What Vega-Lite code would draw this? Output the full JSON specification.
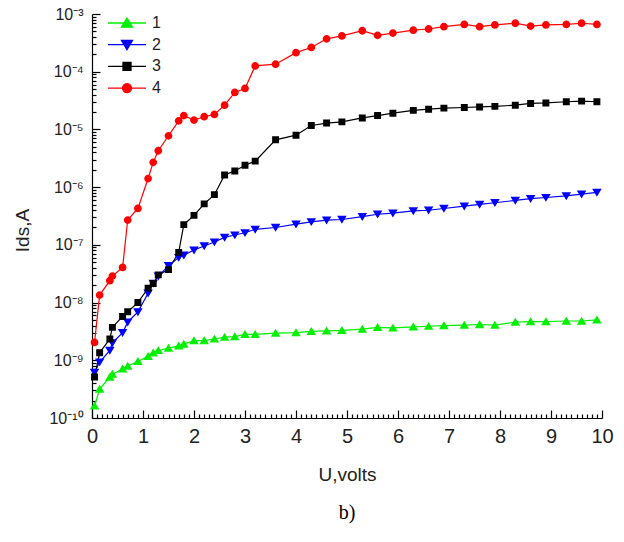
{
  "$schema": "https://vega.github.io/schema/vega-lite/v6.json",
  "autosize": "none",
  "padding": {"left": 92, "top": 14, "right": 22, "bottom": 124},
  "width": 510,
  "height": 404,
  "title": {"text": "b)", "orient": "bottom", "font": "Liberation Serif", "fontSize": 20, "fontWeight": "normal", "color": "#000", "offset": 19, "anchor": "middle"},
  "config": {
    "view": {"stroke": null},
    "axis": {"grid": false, "domainColor": "#000", "domainWidth": 1.2, "labelFont": "Liberation Sans", "labelColor": "#222", "titleFont": "Liberation Sans", "titleColor": "#222", "titleFontWeight": "normal", "labelOverlap": false, "labelBound": false, "labelFlush": false},
    "legend": {"symbolStrokeWidth": 1.3}
  },
  "data": {"values": [
    {"U":0.05,"s":"1","I":1.62e-10},{"U":0.15,"s":"1","I":3.16e-10},{"U":0.35,"s":"1","I":5.13e-10},{"U":0.4,"s":"1","I":5.75e-10},{"U":0.6,"s":"1","I":7.08e-10},{"U":0.7,"s":"1","I":7.94e-10},{"U":0.9,"s":"1","I":9.55e-10},{"U":1.1,"s":"1","I":1.17e-9},{"U":1.2,"s":"1","I":1.35e-9},{"U":1.3,"s":"1","I":1.48e-9},{"U":1.5,"s":"1","I":1.62e-9},{"U":1.7,"s":"1","I":1.78e-9},{"U":1.8,"s":"1","I":1.91e-9},{"U":2.0,"s":"1","I":2.19e-9},{"U":2.2,"s":"1","I":2.19e-9},{"U":2.4,"s":"1","I":2.34e-9},{"U":2.6,"s":"1","I":2.51e-9},{"U":2.8,"s":"1","I":2.57e-9},{"U":3.0,"s":"1","I":2.82e-9},{"U":3.2,"s":"1","I":2.82e-9},{"U":3.6,"s":"1","I":2.95e-9},{"U":4.0,"s":"1","I":3.02e-9},{"U":4.3,"s":"1","I":3.16e-9},{"U":4.6,"s":"1","I":3.24e-9},{"U":4.9,"s":"1","I":3.31e-9},{"U":5.3,"s":"1","I":3.47e-9},{"U":5.6,"s":"1","I":3.72e-9},{"U":5.9,"s":"1","I":3.63e-9},{"U":6.3,"s":"1","I":3.80e-9},{"U":6.6,"s":"1","I":3.89e-9},{"U":6.9,"s":"1","I":3.98e-9},{"U":7.3,"s":"1","I":4.07e-9},{"U":7.6,"s":"1","I":4.17e-9},{"U":7.9,"s":"1","I":4.07e-9},{"U":8.3,"s":"1","I":4.57e-9},{"U":8.6,"s":"1","I":4.68e-9},{"U":8.9,"s":"1","I":4.68e-9},{"U":9.3,"s":"1","I":4.79e-9},{"U":9.6,"s":"1","I":4.79e-9},{"U":9.9,"s":"1","I":5.01e-9},
    {"U":0.05,"s":"2","I":6.17e-10},{"U":0.15,"s":"2","I":9.33e-10},{"U":0.35,"s":"2","I":1.48e-9},{"U":0.4,"s":"2","I":2.0e-9},{"U":0.6,"s":"2","I":3.02e-9},{"U":0.7,"s":"2","I":4.57e-9},{"U":0.9,"s":"2","I":6.92e-9},{"U":1.1,"s":"2","I":1.45e-8},{"U":1.2,"s":"2","I":2.14e-8},{"U":1.3,"s":"2","I":2.88e-8},{"U":1.5,"s":"2","I":4.37e-8},{"U":1.7,"s":"2","I":6.03e-8},{"U":1.8,"s":"2","I":6.61e-8},{"U":2.0,"s":"2","I":8.13e-8},{"U":2.2,"s":"2","I":9.55e-8},{"U":2.4,"s":"2","I":1.12e-7},{"U":2.6,"s":"2","I":1.35e-7},{"U":2.8,"s":"2","I":1.48e-7},{"U":3.0,"s":"2","I":1.62e-7},{"U":3.2,"s":"2","I":1.86e-7},{"U":3.6,"s":"2","I":2.0e-7},{"U":4.0,"s":"2","I":2.29e-7},{"U":4.3,"s":"2","I":2.51e-7},{"U":4.6,"s":"2","I":2.69e-7},{"U":4.9,"s":"2","I":2.75e-7},{"U":5.3,"s":"2","I":3.09e-7},{"U":5.6,"s":"2","I":3.39e-7},{"U":5.9,"s":"2","I":3.55e-7},{"U":6.3,"s":"2","I":3.89e-7},{"U":6.6,"s":"2","I":3.98e-7},{"U":6.9,"s":"2","I":4.27e-7},{"U":7.3,"s":"2","I":4.68e-7},{"U":7.6,"s":"2","I":5.01e-7},{"U":7.9,"s":"2","I":5.37e-7},{"U":8.3,"s":"2","I":5.89e-7},{"U":8.6,"s":"2","I":6.31e-7},{"U":8.9,"s":"2","I":6.61e-7},{"U":9.3,"s":"2","I":7.08e-7},{"U":9.6,"s":"2","I":7.59e-7},{"U":9.9,"s":"2","I":8.13e-7},
    {"U":0.05,"s":"3","I":5.13e-10},{"U":0.15,"s":"3","I":1.35e-9},{"U":0.35,"s":"3","I":2.34e-9},{"U":0.4,"s":"3","I":3.72e-9},{"U":0.6,"s":"3","I":5.75e-9},{"U":0.7,"s":"3","I":6.92e-9},{"U":0.9,"s":"3","I":1.0e-8},{"U":1.1,"s":"3","I":1.78e-8},{"U":1.2,"s":"3","I":2.14e-8},{"U":1.3,"s":"3","I":3.02e-8},{"U":1.5,"s":"3","I":3.72e-8},{"U":1.7,"s":"3","I":7.41e-8},{"U":1.8,"s":"3","I":2.24e-7},{"U":2.0,"s":"3","I":3.24e-7},{"U":2.2,"s":"3","I":5.13e-7},{"U":2.4,"s":"3","I":7.41e-7},{"U":2.6,"s":"3","I":1.62e-6},{"U":2.8,"s":"3","I":1.91e-6},{"U":3.0,"s":"3","I":2.40e-6},{"U":3.2,"s":"3","I":2.82e-6},{"U":3.6,"s":"3","I":6.61e-6},{"U":4.0,"s":"3","I":7.94e-6},{"U":4.3,"s":"3","I":1.17e-5},{"U":4.6,"s":"3","I":1.29e-5},{"U":4.9,"s":"3","I":1.35e-5},{"U":5.3,"s":"3","I":1.58e-5},{"U":5.6,"s":"3","I":1.74e-5},{"U":5.9,"s":"3","I":1.91e-5},{"U":6.3,"s":"3","I":2.14e-5},{"U":6.6,"s":"3","I":2.24e-5},{"U":6.9,"s":"3","I":2.34e-5},{"U":7.3,"s":"3","I":2.40e-5},{"U":7.6,"s":"3","I":2.45e-5},{"U":7.9,"s":"3","I":2.51e-5},{"U":8.3,"s":"3","I":2.63e-5},{"U":8.6,"s":"3","I":2.82e-5},{"U":8.9,"s":"3","I":2.88e-5},{"U":9.3,"s":"3","I":3.02e-5},{"U":9.6,"s":"3","I":3.09e-5},{"U":9.9,"s":"3","I":3.02e-5},
    {"U":0.05,"s":"4","I":2.04e-9},{"U":0.15,"s":"4","I":1.35e-8},{"U":0.35,"s":"4","I":2.40e-8},{"U":0.4,"s":"4","I":2.88e-8},{"U":0.6,"s":"4","I":4.07e-8},{"U":0.7,"s":"4","I":2.69e-7},{"U":0.9,"s":"4","I":4.27e-7},{"U":1.1,"s":"4","I":1.41e-6},{"U":1.2,"s":"4","I":2.69e-6},{"U":1.3,"s":"4","I":4.27e-6},{"U":1.5,"s":"4","I":7.76e-6},{"U":1.7,"s":"4","I":1.41e-5},{"U":1.8,"s":"4","I":1.74e-5},{"U":2.0,"s":"4","I":1.45e-5},{"U":2.2,"s":"4","I":1.66e-5},{"U":2.4,"s":"4","I":1.82e-5},{"U":2.6,"s":"4","I":2.63e-5},{"U":2.8,"s":"4","I":4.37e-5},{"U":3.0,"s":"4","I":5.13e-5},{"U":3.2,"s":"4","I":1.26e-4},{"U":3.6,"s":"4","I":1.35e-4},{"U":4.0,"s":"4","I":2.14e-4},{"U":4.3,"s":"4","I":2.63e-4},{"U":4.6,"s":"4","I":3.72e-4},{"U":4.9,"s":"4","I":4.17e-4},{"U":5.3,"s":"4","I":5.13e-4},{"U":5.6,"s":"4","I":4.27e-4},{"U":5.9,"s":"4","I":4.68e-4},{"U":6.3,"s":"4","I":5.25e-4},{"U":6.6,"s":"4","I":5.50e-4},{"U":6.9,"s":"4","I":6.03e-4},{"U":7.3,"s":"4","I":6.61e-4},{"U":7.6,"s":"4","I":6.03e-4},{"U":7.9,"s":"4","I":6.46e-4},{"U":8.3,"s":"4","I":6.92e-4},{"U":8.6,"s":"4","I":6.17e-4},{"U":8.9,"s":"4","I":6.46e-4},{"U":9.3,"s":"4","I":6.61e-4},{"U":9.6,"s":"4","I":6.92e-4},{"U":9.9,"s":"4","I":6.61e-4}
  ]},
  "encoding": {
    "x": {"field": "U", "type": "quantitative",
      "scale": {"domain": [0, 10], "nice": false, "zero": false},
      "axis": {
        "title": "U,volts", "titleFontSize": 19, "titleY": 47, "titleX": 255,
        "labelFontSize": 20, "labelPadding": 16,
        "ticks": true, "tickColor": "black", "tickWidth": 1.2, "tickOpacity": 1,
        "values": [0,0.1,0.2,0.3,0.4,0.5,0.6,0.7,0.8,0.9,1,1.1,1.2,1.3,1.4,1.5,1.6,1.7,1.8,1.9,2,2.1,2.2,2.3,2.4,2.5,2.6,2.7,2.8,2.9,3,3.1,3.2,3.3,3.4,3.5,3.6,3.7,3.8,3.9,4,4.1,4.2,4.3,4.4,4.5,4.6,4.7,4.8,4.9,5,5.1,5.2,5.3,5.4,5.5,5.6,5.7,5.8,5.9,6,6.1,6.2,6.3,6.4,6.5,6.6,6.7,6.8,6.9,7,7.1,7.2,7.3,7.4,7.5,7.6,7.7,7.8,7.9,8,8.1,8.2,8.3,8.4,8.5,8.6,8.7,8.8,8.9,9,9.1,9.2,9.3,9.4,9.5,9.6,9.7,9.8,9.9,10],
        "labelExpr": "abs(datum.value - round(datum.value)) < 0.001 ? format(round(datum.value), 'd') : ''",
        "tickSize": {"condition": {"test": "abs(datum.value - round(datum.value)) < 0.001", "value": -8}, "value": -4}
      }
    },
    "y": {"field": "I", "type": "quantitative",
      "scale": {"type": "log", "domain": [1e-10, 1e-3], "nice": false},
      "axis": {
        "title": "Ids,A", "titleFontSize": 19, "titleX": -60, "titleY": 216, "titleAngle": -90, "titleBaseline": "bottom",
        "labelFontSize": 16, "labelPadding": 17,
        "ticks": true, "tickColor": "black", "tickWidth": 1.2, "tickOpacity": 1,
        "values": [1e-10,2e-10,3e-10,4e-10,5e-10,6e-10,7e-10,8e-10,9e-10,1e-9,2e-9,3e-9,4e-9,5e-9,6e-9,7e-9,8e-9,9e-9,1e-8,2e-8,3e-8,4e-8,5e-8,6e-8,7e-8,8e-8,9e-8,1e-7,2e-7,3e-7,4e-7,5e-7,6e-7,7e-7,8e-7,9e-7,1e-6,2e-6,3e-6,4e-6,5e-6,6e-6,7e-6,8e-6,9e-6,1e-5,2e-5,3e-5,4e-5,5e-5,6e-5,7e-5,8e-5,9e-5,1e-4,2e-4,3e-4,4e-4,5e-4,6e-4,7e-4,8e-4,9e-4,1e-3],
        "labelExpr": "abs(log(datum.value)/LN10 - round(log(datum.value)/LN10)) < 0.0001 ? '10' + ['⁻¹⁰','⁻⁹','⁻⁸','⁻⁷','⁻⁶','⁻⁵','⁻⁴','⁻³'][round(log(datum.value)/LN10) + 10] : ''",
        "tickSize": {"condition": {"test": "abs(log(datum.value)/LN10 - round(log(datum.value)/LN10)) < 0.0001", "value": -8}, "value": -4}
      }
    },
    "color": {"field": "s", "type": "nominal",
      "scale": {"domain": ["1","2","3","4"], "range": ["#00f000","#0000ff","#000000","#ff0000"]},
      "legend": {"title": null, "orient": "none", "legendX": 24, "legendY": -2, "labelFontSize": 16, "labelFont": "Liberation Sans", "labelColor": "#222", "symbolSize": 400, "labelOffset": 14, "rowPadding": 2.7, "symbolStrokeWidth": 1.3}
    }
  },
  "layer": [
    {"mark": {"type": "line", "strokeWidth": 1.2}},
    {"mark": {"type": "point", "filled": true, "size": 300, "opacity": 1},
      "encoding": {
        "shape": {"field": "s", "type": "nominal",
          "scale": {"domain": ["1","2","3","4"], "range": [
            "M-1.9,0H1.9M0,-0.5L0.55,0.42H-0.55Z",
            "M-1.9,0H1.9M0,0.5L0.55,-0.42H-0.55Z",
            "M-1.9,0H1.9M-0.4,-0.4H0.4V0.4H-0.4Z",
            "M-1.9,0H1.9M0.45,0A0.45,0.45 0 1,1 -0.45,0A0.45,0.45 0 1,1 0.45,0Z"]},
          "legend": {"title": null, "orient": "none", "legendX": 24, "legendY": -2, "labelFontSize": 16, "labelFont": "Liberation Sans", "labelColor": "#222", "symbolSize": 400, "labelOffset": 14, "rowPadding": 2.7, "symbolStrokeWidth": 1.3}
        },
        "stroke": {"field": "s", "type": "nominal",
          "scale": {"domain": ["1","2","3","4"], "range": ["#00f000","#0000ff","#000000","#ff0000"]},
          "legend": {"title": null, "orient": "none", "legendX": 24, "legendY": -2, "labelFontSize": 16, "labelFont": "Liberation Sans", "labelColor": "#222", "symbolSize": 400, "labelOffset": 14, "rowPadding": 2.7, "symbolStrokeWidth": 1.3}
        },
        "strokeWidth": {"value": 0}
      }
    }
  ]
}
